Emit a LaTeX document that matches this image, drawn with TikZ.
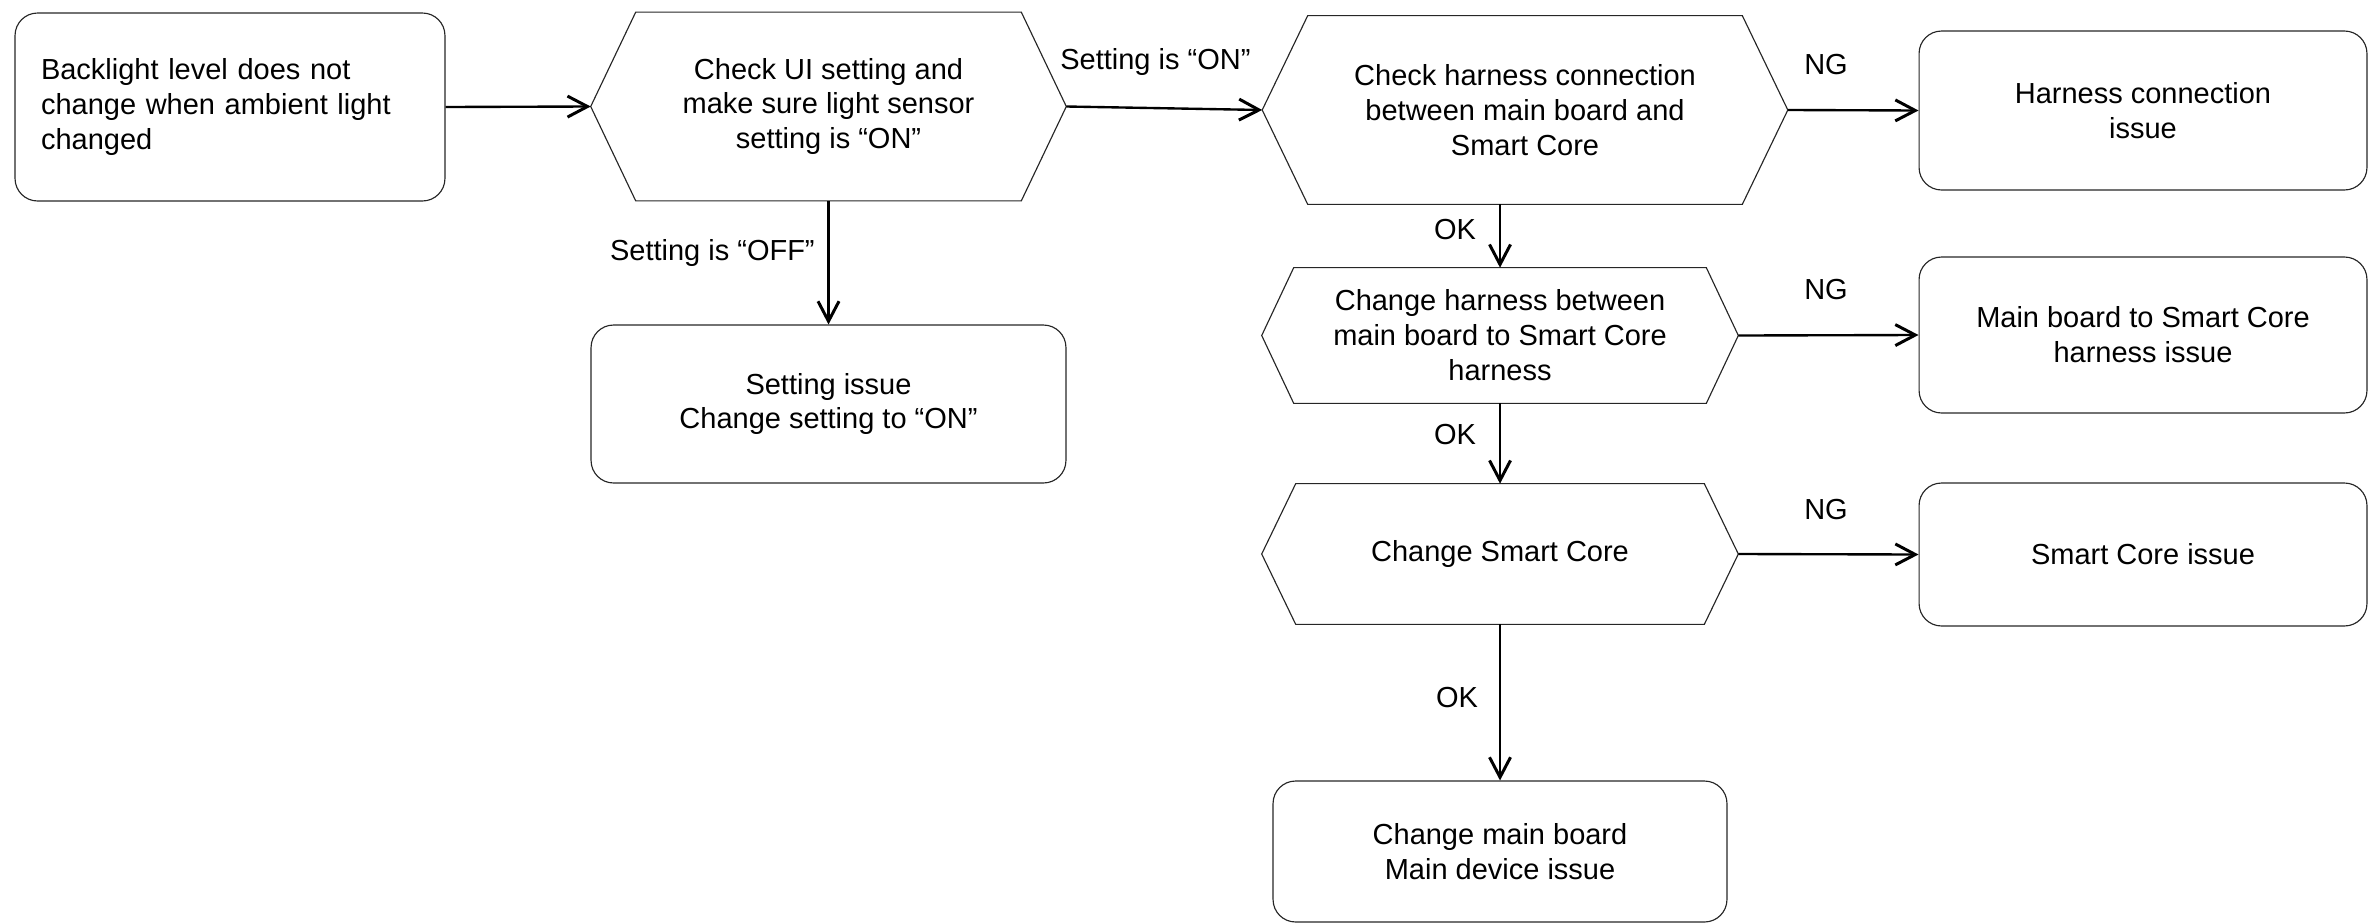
\documentclass[tikz,border=0pt]{standalone}
\usepackage{fontspec}
\setmainfont{Liberation Sans}
\usetikzlibrary{arrows.meta,calc}
\begin{document}
\begin{tikzpicture}[x=0.02cm,y=-0.02cm,
  every node/.style={font=\fontsize{16.5pt}{19.9pt}\selectfont},
  box/.style={draw=black!85, rounded corners=0.45cm, line width=0.65pt, align=center, inner sep=0pt},
  hexcore/.style={inner sep=0pt, align=center},
  hexline/.style={draw=black!85, line width=0.65pt, line join=miter},
  conn/.style={line width=1.35pt, -{Straight Barb[length=0.4cm,width=0.42cm,line width=1.7pt]}},
  lbl/.style={inner sep=0pt}
]
\useasboundingbox (0,0) rectangle (2368,923);

% start box
\node[box, align=left, text width=7.56cm, inner xsep=0.52cm, minimum height=3.76cm] (b1) at (230,107)
  {Backlight level does not\\change when ambient light\\changed};

% hexagon 1
\node[hexcore, minimum width=7.7cm, minimum height=3.76cm] (h1) at (828.5,106.5)
  {Check UI setting and\\make sure light sensor\\setting is “ON”};
\coordinate (h1w) at ([xshift=-0.9cm]h1.west);
\coordinate (h1e) at ([xshift=0.9cm]h1.east);
\draw[hexline] (h1.north west) -- (h1.north east) -- (h1e) -- (h1.south east) -- (h1.south west) -- (h1w) -- cycle;

% setting issue
\node[box, minimum width=9.5cm, minimum height=3.16cm] (bs) at (828.5,404)
  {Setting issue\\Change setting to “ON”};

% hexagon 2
\node[hexcore, minimum width=8.68cm, minimum height=3.76cm] (h2) at (1525,110)
  {Check harness connection\\between main board and\\Smart Core};
\coordinate (h2w) at ([xshift=-0.91cm]h2.west);
\coordinate (h2e) at ([xshift=0.91cm]h2.east);
\draw[hexline] (h2.north west) -- (h2.north east) -- (h2e) -- (h2.south east) -- (h2.south west) -- (h2w) -- cycle;

% hexagon 3
\node[hexcore, minimum width=8.24cm, minimum height=2.7cm] (h3) at (1500,335.5)
  {Change harness between\\main board to Smart Core\\harness};
\coordinate (h3w) at ([xshift=-0.64cm]h3.west);
\coordinate (h3e) at ([xshift=0.64cm]h3.east);
\draw[hexline] (h3.north west) -- (h3.north east) -- (h3e) -- (h3.south east) -- (h3.south west) -- (h3w) -- cycle;

% hexagon 4
\node[hexcore, minimum width=8.16cm, minimum height=2.8cm] (h4) at (1500,554)
  {Change Smart Core};
\coordinate (h4w) at ([xshift=-0.68cm]h4.west);
\coordinate (h4e) at ([xshift=0.68cm]h4.east);
\draw[hexline] (h4.north west) -- (h4.north east) -- (h4e) -- (h4.south east) -- (h4.south west) -- (h4w) -- cycle;

% result boxes
\node[box, minimum width=8.96cm, minimum height=3.18cm] (bhc) at (2143,110.5)
  {Harness connection\\issue};
\node[box, minimum width=8.96cm, minimum height=3.12cm] (bmb) at (2143,335)
  {Main board to Smart Core\\harness issue};
\node[box, minimum width=8.96cm, minimum height=2.86cm] (bsc) at (2143,554.5)
  {Smart Core issue};
\node[box, minimum width=9.08cm, minimum height=2.82cm] (bm) at (1500,851.5)
  {Change main board\\Main device issue};

% connectors
\draw[conn] (b1.east) -- (h1w);
\draw[conn] (h1.south) -- (bs.north);
\draw[conn] (h1e) -- (h2w);
\draw[conn] (h2e) -- (bhc.west);
\draw[conn] (h3.north |- h2.south) -- (h3.north);
\draw[conn] (h3e) -- (bmb.west);
\draw[conn] (h3.south) -- (h4.north);
\draw[conn] (h4e) -- (bsc.west);
\draw[conn] (h4.south) -- (bm.north);

% labels
\node[lbl, anchor=west] (lon) at (1060,62) {Setting is “ON”};
\node[lbl, anchor=east] (loff) at (815,253) {Setting is “OFF”};
\node[lbl] (ng1) at (1826,65) {NG};
\node[lbl] (ng2) at (1826,290) {NG};
\node[lbl] (ng3) at (1826,510) {NG};
\node[lbl] (ok1) at (1455,230) {OK};
\node[lbl] (ok2) at (1455,435) {OK};
\node[lbl] (ok3) at (1457,698) {OK};
\end{tikzpicture}
\end{document}
